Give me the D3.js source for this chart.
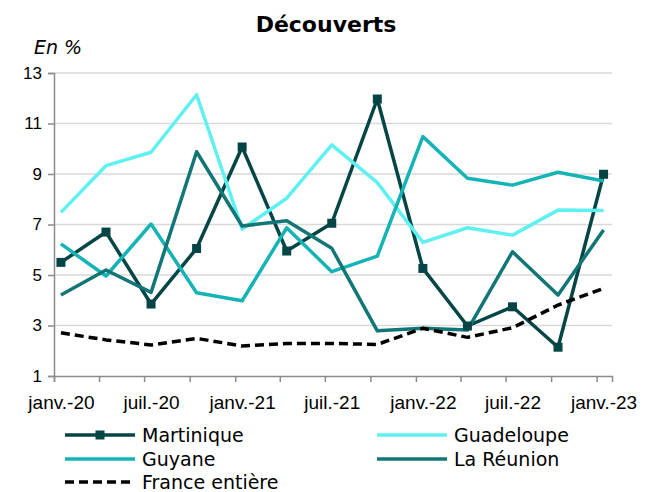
<!DOCTYPE html>
<html>
<head>
<meta charset="utf-8">
<script src="https://cdn.jsdelivr.net/npm/d3@7"></script>
<style>
  body { margin: 0; background: #fff; }
  svg { display: block; font-family: 'DejaVu Sans', sans-serif; }
</style>
</head>
<body>
<div class="chart"></div>
<script>
// Chart sizes
const width = 645;
const height = 492;
const margin = {top: 73, right: 33, bottom: 116, left: 54};
const inner_width = width - margin.left - margin.right;
const inner_height = height - margin.top - margin.bottom;

// Data (quarterly, in %)
const quarters = ['2020-01', '2020-04', '2020-07', '2020-10', '2021-01', '2021-04', '2021-07',
    '2021-10', '2022-01', '2022-04', '2022-07', '2022-10', '2023-01'];
const martinique = [5.5, 6.7, 3.85, 6.05, 10.07, 5.95, 7.05, 11.97, 5.26, 2.98, 3.74, 2.14, 8.99];
const guadeloupe = [7.48, 9.33, 9.86, 12.14, 6.82, 8.04, 10.15, 8.66, 6.29, 6.87, 6.58, 7.57, 7.55];
const guyane = [6.23, 4.96, 7.02, 4.3, 3.98, 6.87, 5.13, 5.75, 10.48, 8.83, 8.56, 9.07, 8.72];
const reunion = [4.21, 5.2, 4.31, 9.88, 6.94, 7.15, 6.06, 2.79, 2.89, 2.82, 5.92, 4.21, 6.78];
const france = [2.71, 2.43, 2.23, 2.49, 2.19, 2.29, 2.29, 2.25, 2.89, 2.53, 2.91, 3.81, 4.47];
const x_labels = ['janv.-20', 'juil.-20', 'janv.-21', 'juil.-21', 'janv.-22', 'juil.-22', 'janv.-23'];
const y_ticks = [1, 3, 5, 7, 9, 11, 13];

const series = [
    {name: 'Martinique', values: martinique, color: '#064545', marker: true},
    {name: 'Guadeloupe', values: guadeloupe, color: '#5ff0f2'},
    {name: 'Guyane', values: guyane, color: '#14b3b5'},
    {name: 'La Réunion', values: reunion, color: '#127676'},
    {name: 'France entière', values: france, color: '#000000', dash: '9,5'}
];

const parse = d3.timeParse('%Y-%m');
// points sit in the middle of their month
const dates = quarters.map(q => d3.timeDay.offset(parse(q), 14));

const svg = d3.select('.chart').append('svg')
    .attr('width', width)
    .attr('height', height);

// Scales
const xScale = d3.scaleTime()
    .domain([parse('2020-01'), parse('2023-02')])
    .range([0, inner_width]);
const yScale = d3.scaleLinear()
    .domain([1, 13])
    .range([inner_height, 0]);

const chart = svg.append('g').attr('transform', `translate(${margin.left}, ${margin.top})`);

// Gridlines
chart.append('g')
    .selectAll('line')
    .data(y_ticks.slice(1))
    .join('line')
        .attr('x1', 0)
        .attr('x2', inner_width)
        .attr('y1', d => yScale(d))
        .attr('y2', d => yScale(d))
        .attr('stroke', '#d9d9d9')
        .attr('stroke-width', 1.5);

// Y axis
chart.append('g')
    .call(d3.axisLeft(yScale).tickValues(y_ticks).tickSize(6).tickPadding(6))
    .call(g => g.selectAll('.domain, .tick line').attr('stroke', '#8c8c8c').attr('stroke-width', 1.5))
    .call(g => g.selectAll('text').attr('font-size', 17).attr('fill', '#000'));

// X axis: ticks at each quarter start
chart.append('g')
    .attr('transform', `translate(0, ${inner_height})`)
    .call(d3.axisBottom(xScale).ticks(d3.timeMonth.every(3)).tickSize(6).tickFormat(''))
    .call(g => g.selectAll('.domain, .tick line').attr('stroke', '#8c8c8c').attr('stroke-width', 1.5));

// X labels, under every second point
chart.append('g')
    .attr('transform', `translate(0, ${inner_height})`)
    .call(d3.axisBottom(xScale)
        .tickValues(dates.filter((_, i) => i % 2 === 0))
        .tickSize(0)
        .tickPadding(20)
        .tickFormat((_, i) => x_labels[i]))
    .call(g => g.select('.domain').remove())
    .call(g => g.selectAll('text').attr('font-size', 19).attr('fill', '#000'));

// Lines
const line = d3.line()
    .x((_, i) => xScale(dates[i]))
    .y(d => yScale(d));

chart.append('g')
    .selectAll('path')
    .data(series)
    .join('path')
        .attr('d', s => line(s.values))
        .attr('fill', 'none')
        .attr('stroke', s => s.color)
        .attr('stroke-width', 3.5)
        .attr('stroke-dasharray', s => s.dash || null)
        .attr('stroke-linejoin', 'round');

// Martinique markers
chart.append('g')
    .selectAll('rect')
    .data(martinique)
    .join('rect')
        .attr('x', (_, i) => xScale(dates[i]) - 4.5)
        .attr('y', d => yScale(d) - 4.5)
        .attr('width', 9)
        .attr('height', 9)
        .attr('fill', series[0].color);

// Title
svg.append('text')
    .attr('x', 326)
    .attr('y', 32)
    .attr('text-anchor', 'middle')
    .attr('font-size', 22)
    .attr('font-weight', 'bold')
    .text('Découverts');

svg.append('text')
    .attr('x', 34)
    .attr('y', 54)
    .attr('font-size', 19)
    .attr('font-style', 'italic')
    .text('En %');

// Legend
const legend = svg.append('g');
const legend_pos = [[65, 435], [377, 435], [65, 459], [377, 459], [65, 482]];
const item = legend.selectAll('g')
    .data(series)
    .join('g')
        .attr('transform', (_, i) => `translate(${legend_pos[i][0]}, ${legend_pos[i][1]})`);

item.append('line')
    .attr('x1', 0)
    .attr('x2', 70)
    .attr('stroke', s => s.color)
    .attr('stroke-width', 3.5)
    .attr('stroke-dasharray', s => s.dash || null);

item.filter(s => s.marker).append('rect')
    .attr('x', 30.5)
    .attr('y', -4.5)
    .attr('width', 9)
    .attr('height', 9)
    .attr('fill', s => s.color);

item.append('text')
    .attr('x', 77)
    .attr('y', 6.5)
    .attr('font-size', 19)
    .text(s => s.name);
</script>
</body>
</html>
